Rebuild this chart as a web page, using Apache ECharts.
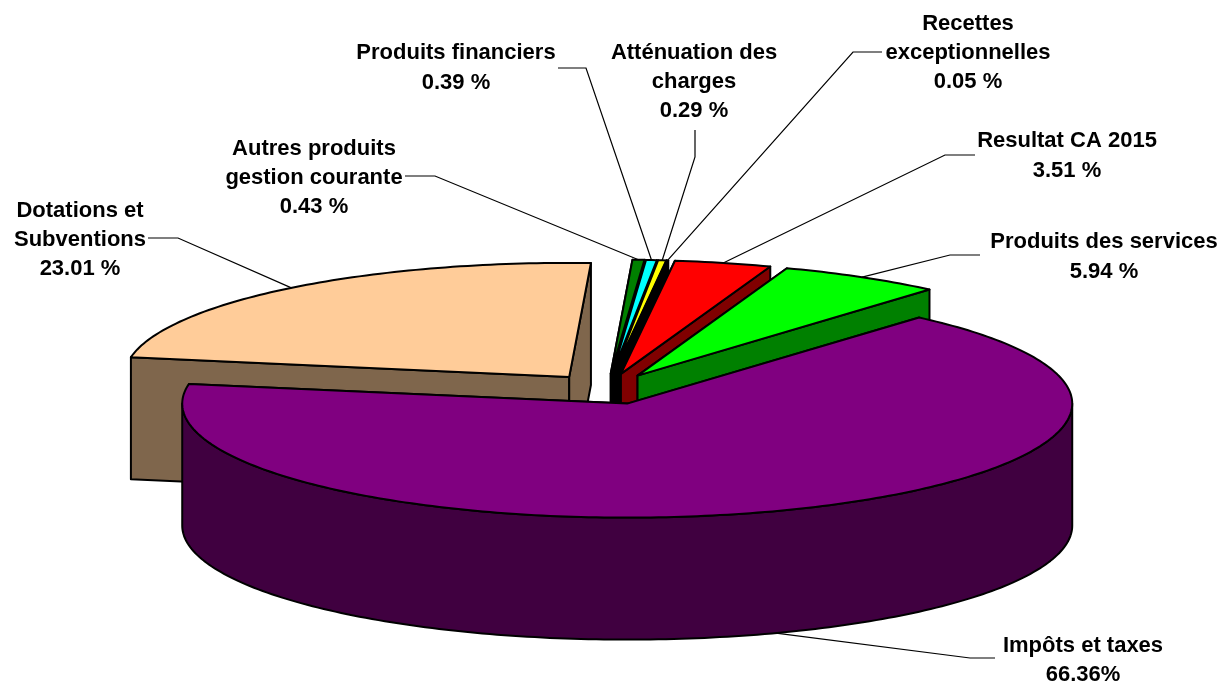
<!DOCTYPE html>
<html>
<head>
<meta charset="utf-8">
<style>html,body{margin:0;padding:0;background:#fff}#chart{width:1220px;height:682px}</style>
<script src="https://cdn.jsdelivr.net/npm/echarts@6/dist/echarts.min.js"></script>
</head>
<body>
<div id="chart"></div>
<script>
// Data
const categories = ['Impôts et taxes','Dotations et\nSubventions','Autres produits\ngestion courante','Produits financiers','Atténuation des\ncharges','Recettes\nexceptionnelles','Resultat CA 2015','Produits des services'];
const values = [66.36,23.01,0.43,0.39,0.29,0.05,3.51,5.94];
const percentSuffix = ['%',' %',' %',' %',' %',' %',' %',' %'];
// Styles
const topColors = ['#800080','#FFCC99','#008000','#00FFFF','#FFFF00','#000000','#FF0000','#00FF00'];
const wallColors = ['#400040','#7F664C','#004000','#008080','#808000','#000000','#800000','#008000'];
// Layout of the projected pie
const pie = {cx:607, cy:389, a:445, b:114, depth:122, explode:0.136, startDeg:41};
// Label centres and leader elbows, in page pixels
const labelPos = [[1083,660.5],[80,240],[314,178],[456,68],[694,82],[968,53],[1067,156],[1104,257]];
const leaderElbows = [
  [[970,658],[995,658]],
  [[178,238],[148,238]],
  [[435,176],[405,176]],
  [[586,68],[558,68]],
  [[695,157],[695,130]],
  [[853,52],[882,52]],
  [[945,155],[975,155]],
  [[950,255],[980,255]]
];

const total = values.reduce((s,v)=>s+v,0);
const rad = d => d*Math.PI/180;
function ranges(){
  let t = pie.startDeg;
  return values.map(v=>{const t0=t; t+=v/total*360; return [t0,t];});
}
const sliceRanges = ranges();

function renderItem(params, api){
  const i = params.dataIndex;
  const v = api.value(0);
  const [t0,t1] = sliceRanges[i];
  const mid = (t0+t1)/2;
  const ax = pie.cx + pie.explode*pie.a*Math.sin(rad(mid));
  const ay = pie.cy - pie.explode*pie.b*Math.cos(rad(mid));
  const P = (t,d)=>[ax+pie.a*Math.sin(rad(t)), ay-pie.b*Math.cos(rad(t))+(d||0)];
  const arc = (s,e,d)=>{
    const pts=[]; const n=Math.max(2,Math.ceil(Math.abs(e-s)));
    for(let k=0;k<=n;k++) pts.push(P(s+(e-s)*k/n,d));
    return pts;
  };
  const rank = (i===0?8:i)*10;
  const faceStyle = c => ({fill:c, stroke:'#000', lineWidth:2, lineJoin:'round'});
  const D = pie.depth;
  const apex=[ax,ay], apexD=[ax,ay+D];
  const children=[];
  const poly=(pts,c,z)=>children.push({type:'polygon',z2:rank+z,shape:{points:pts},style:faceStyle(c)});
  // radial walls
  poly([apex,P(t0),P(t0,D),apexD],wallColors[i],0);
  poly([apex,P(t1),P(t1,D),apexD],wallColors[i],1);
  // outer curved wall for the part of the rim that faces the viewer
  const ws=Math.max(t0,90), we=Math.min(t1,270);
  if(we>ws) poly(arc(ws,we,0).concat(arc(we,ws,D)),wallColors[i],2);
  // top face
  poly([apex].concat(arc(t0,t1,0)),topColors[i],3);
  // leader
  const onFront = mid>90 && mid<270;
  const target = P(mid,onFront?D:0);
  children.push({type:'polyline',z2:200,shape:{points:[target].concat(leaderElbows[i])},style:{fill:null,stroke:'#000',lineWidth:1.2}});
  // label
  children.push({type:'text',z2:210,style:{
    text:categories[i]+'\n'+v.toFixed(2)+percentSuffix[i],
    x:labelPos[i][0],y:labelPos[i][1],align:'center',verticalAlign:'middle',
    font:'bold 22px "Liberation Sans", Arial, sans-serif',lineHeight:29.3,fill:'#000'
  }});
  return {type:'group',children};
}

const chart = echarts.init(document.getElementById('chart'),null,{renderer:'canvas'});
chart.setOption({
  animation:false,
  backgroundColor:'#fff',
  series:[{
    type:'custom',
    coordinateSystem:'none',
    renderItem,
    silent:true,
    data:values.map((v,i)=>({name:categories[i],value:[v]}))
  }]
});
</script>
</body>
</html>
